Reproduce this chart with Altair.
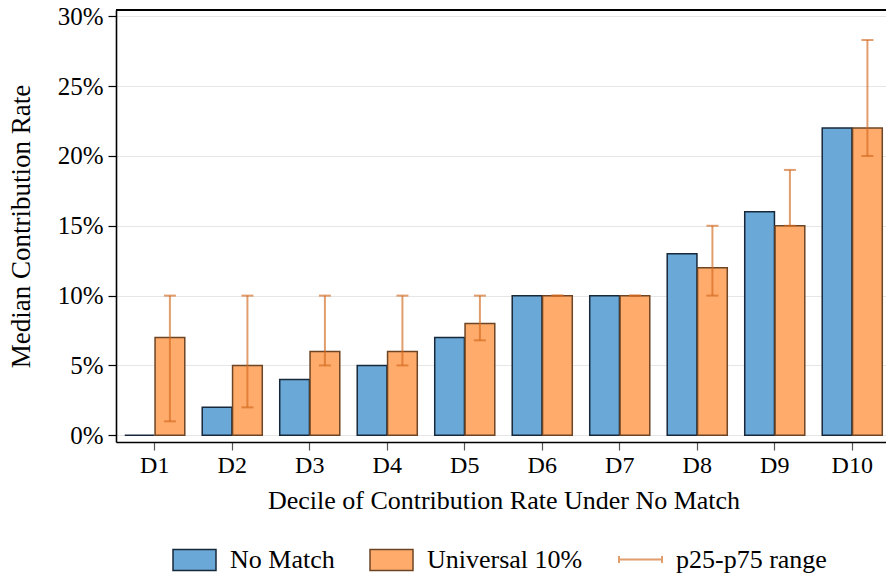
import altair as alt
import pandas as pd

deciles = ["D1", "D2", "D3", "D4", "D5", "D6", "D7", "D8", "D9", "D10"]
no_match = [0, 2, 4, 5, 7, 10, 10, 13, 16, 22]
universal = [7, 5, 6, 6, 8, 10, 10, 12, 15, 22]
p25 = [1, 2, 5, 5, 6.8, 10, 10, 10, 15, 20]
p75 = [10, 10, 10, 10, 10, 10, 10, 15, 19, 28.3]
series_names = ["No Match", "Universal 10%"]
err_name = ["p25-p75 range"]
y_ticks = [0, 5, 10, 15, 20, 25, 30]

BLUE = "#6AA9D7"
ORANGE = "#FFAB6B"
BLUE_STROKE = "#17283A"
ORANGE_STROKE = "#6E4524"
ERR = "#D2691E"
FONT = "Liberation Serif"

rows = []
for d, a, b in zip(deciles, no_match, universal):
    rows.append({"decile": d, "series": series_names[0], "value": a / 100})
    rows.append({"decile": d, "series": series_names[1], "value": b / 100})
bars_df = pd.DataFrame(rows)

err_df = pd.DataFrame({
    "decile": deciles,
    "series": [series_names[1]] * len(deciles),
    "label": err_name * len(deciles),
    "lo": [v / 100 for v in p25],
    "hi": [v / 100 for v in p75],
})

x_enc = alt.X("decile:N", sort=deciles, title="Decile of Contribution Rate Under No Match",
              scale=alt.Scale(range=[0, 775], paddingInner=0.225, paddingOuter=0.1125),
              axis=alt.Axis(labelAngle=0, tickSize=8, tickColor="#555555", tickWidth=1.2,
                            domainColor="black", domainWidth=1.6, labelPadding=3,
                            labelFontSize=24, titleFontSize=26, titlePadding=10,
                            labelColor="black", titleColor="black", titleFontWeight="normal"))
xoff_enc = alt.XOffset("series:N", sort=series_names, scale=alt.Scale(domain=series_names, paddingInner=0.02))

y_scale = alt.Scale(domain=[-0.0048, 0.3045], nice=False, zero=False)

RECT = "M-1,-0.49H1V0.49H-1Z"
ERRSYM = "M-1,0H1M-1,-0.16V0.16M1,-0.16V0.16"

bar_legend = dict(title=None, orient="none", legendX=56, legendY=527, direction="horizontal",
                  labelFontSize=26, labelFont=FONT, labelColor="black", labelOffset=13,
                  columnPadding=32, symbolSize=1849, symbolStrokeWidth=1.5, symbolType=RECT,
                  symbolOpacity=1)

bars = alt.Chart(bars_df).mark_bar(strokeWidth=1.5, opacity=1).encode(
    x=x_enc,
    xOffset=xoff_enc,
    y=alt.Y("value:Q", scale=y_scale, title="Median Contribution Rate",
            axis=alt.Axis(values=[v / 100 for v in y_ticks], format=".0%", tickSize=8,
                          tickColor="black", tickWidth=1.2, domainColor="black", domainWidth=1.6,
                          grid=True, gridColor="#E6E6E6", gridWidth=1, labelPadding=5,
                          labelFontSize=25, titleFontSize=27, titlePadding=22,
                          labelColor="black", titleColor="black", titleFontWeight="normal")),
    y2=alt.datum(0),
    color=alt.Color("series:N", scale=alt.Scale(domain=series_names, range=[BLUE, ORANGE]),
                    legend=alt.Legend(**bar_legend)),
    stroke=alt.Stroke("series:N", scale=alt.Scale(domain=series_names, range=[BLUE_STROKE, ORANGE_STROKE]),
                      legend=alt.Legend(**bar_legend)),
)

rule = alt.Chart(err_df).mark_rule(strokeWidth=2, opacity=0.65).encode(
    x=alt.X("decile:N", sort=deciles),
    xOffset=alt.XOffset("series:N", sort=series_names),
    y=alt.Y("lo:Q"),
    y2="hi:Q",
    color=alt.Color("label:N", scale=alt.Scale(domain=err_name, range=[ERR]),
                    legend=alt.Legend(title=None, orient="none", legendX=502, legendY=527,
                                      labelFontSize=26, labelFont=FONT, labelColor="black",
                                      labelOffset=13, symbolSize=1849, symbolType=ERRSYM,
                                      symbolStrokeWidth=2, symbolOpacity=0.65,
                                      symbolFillColor="transparent")),
)
cap_lo = alt.Chart(err_df).mark_tick(color=ERR, thickness=2, size=12, opacity=0.65).encode(
    x=alt.X("decile:N", sort=deciles),
    xOffset=alt.XOffset("series:N", sort=series_names),
    y=alt.Y("lo:Q"),
)
cap_hi = alt.Chart(err_df).mark_tick(color=ERR, thickness=2, size=12, opacity=0.65).encode(
    x=alt.X("decile:N", sort=deciles),
    xOffset=alt.XOffset("series:N", sort=series_names),
    y=alt.Y("hi:Q"),
)
top_line = alt.Chart(err_df).mark_rule(color="black", strokeWidth=1.6).encode(
    y=alt.value(0), x=alt.value(0), x2=alt.value(775)
)

chart = alt.layer(bars, rule, cap_lo, cap_hi, top_line).resolve_scale(
    color="independent", stroke="independent"
).properties(
    width=770, height=432,
    padding={"left": 116, "top": 10, "right": 0, "bottom": 135},
    autosize=alt.AutoSizeParams(type="none"),
).configure_view(stroke=None).configure(font=FONT).configure_axis(labelFont=FONT, titleFont=FONT)

chart.save("out.html", embed_options={"renderer": "svg", "actions": False})
